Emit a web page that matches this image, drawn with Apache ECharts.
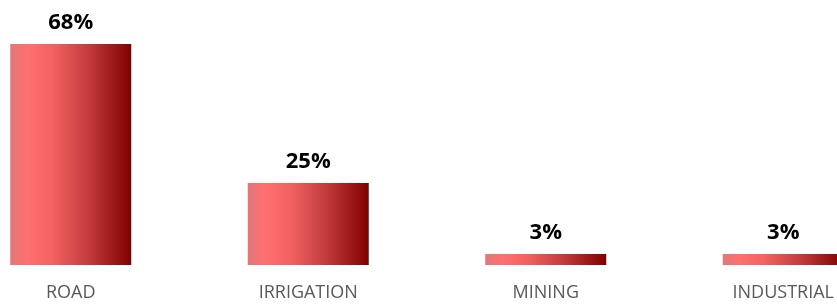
<!DOCTYPE html>
<html>
<head>
<meta charset="utf-8">
<script src="https://cdn.jsdelivr.net/npm/echarts@6/dist/echarts.min.js"></script>
<style>
  html, body { margin: 0; padding: 0; background: #fff; }
  #chart { width: 837px; height: 305px; }
</style>
</head>
<body>
<div id="chart"></div>
<script>
var categories = ['ROAD', 'IRRIGATION', 'MINING', 'INDUSTRIAL'];
var shares = [68, 25.2, 3.4, 3.4];

var myChart = echarts.init(document.getElementById('chart'));

// left-to-right shading, light red to dark maroon
var barColor = new echarts.graphic.LinearGradient(0, 0, 1, 0, [
    {offset: 0, color: '#dc7a7e'},
    {offset: 0.08, color: '#f47272'},
    {offset: 0.14, color: '#ff7070'},
    {offset: 0.35, color: '#f26262'},
    {offset: 0.65, color: '#c23b3b'},
    {offset: 1, color: '#800000'}
]);

var option = {
    animation: false,
    grid: {left: -48, width: 950, top: 44, bottom: 40, outerBoundsMode: 'none', containLabel: false},
    xAxis: {
        type: 'category',
        data: categories,
        axisLine: {show: false},
        axisTick: {show: false},
        axisLabel: {
            color: '#595959',
            fontSize: 18,
            fontFamily: 'Open Sans',
            margin: 19
        }
    },
    yAxis: {
        type: 'value',
        show: false,
        min: 0,
        max: 68
    },
    series: [{
        type: 'bar',
        data: shares,
        barWidth: 121,
        itemStyle: {
            color: barColor
        },
        label: {
            show: true,
            position: 'top',
            distance: 10,
            color: '#000',
            fontSize: 22,
            fontWeight: 'bold',
            fontFamily: 'Open Sans',
            formatter: function(p){ return Math.round(p.value) + '%'; }
        }
    }]
};

myChart.setOption(option);
</script>
</body>
</html>
